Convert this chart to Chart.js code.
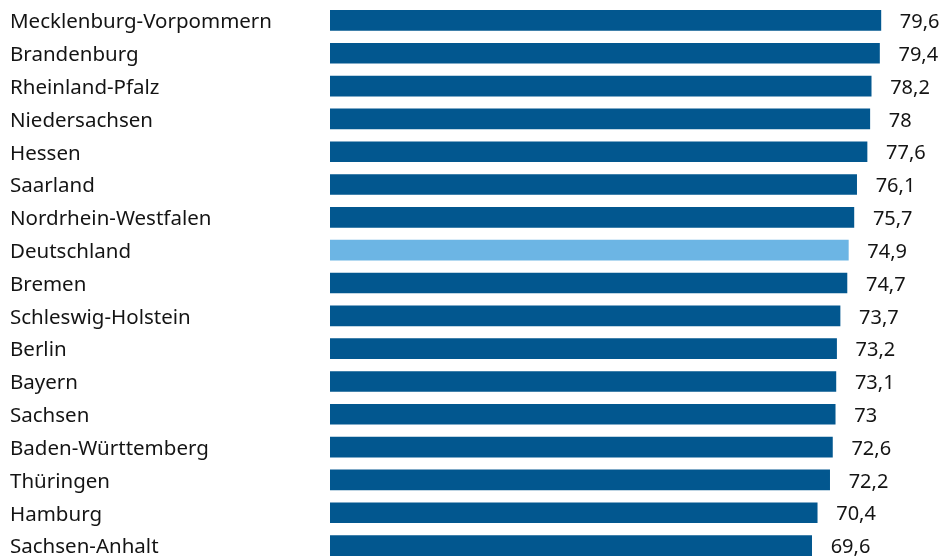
<!DOCTYPE html>
<html lang="de">
<head>
<meta charset="utf-8">
<title>Bundesländer</title>
<script src="https://cdn.jsdelivr.net/npm/chart.js@4"></script>
<style>
  html, body { margin: 0; padding: 0; background: #fff; overflow: hidden; }
  #wrap { position: relative; width: 943px; height: 562px; }
</style>
</head>
<body>
<div id="wrap"><canvas id="chart"></canvas></div>
<script>
const laender = [
  'Mecklenburg-Vorpommern', 'Brandenburg', 'Rheinland-Pfalz', 'Niedersachsen',
  'Hessen', 'Saarland', 'Nordrhein-Westfalen', 'Deutschland', 'Bremen',
  'Schleswig-Holstein', 'Berlin', 'Bayern', 'Sachsen', 'Baden-Württemberg',
  'Thüringen', 'Hamburg', 'Sachsen-Anhalt'
];
const werte = [79.6, 79.4, 78.2, 78, 77.6, 76.1, 75.7, 74.9, 74.7, 73.7, 73.2, 73.1, 73, 72.6, 72.2, 70.4, 69.6];

const DUNKEL = '#02578f';
const HELL = '#6cb5e4';
const SCHRIFT = "'Noto Sans', sans-serif";

// Zahl im deutschen Format (Komma statt Punkt)
function fmt(v) {
  return String(v).replace('.', ',');
}

// Werte rechts neben den Balken
const wertLabels = {
  id: 'wertLabels',
  afterDatasetsDraw(chart) {
    const ctx = chart.ctx;
    const meta = chart.getDatasetMeta(0);
    ctx.save();
    ctx.font = '20px ' + SCHRIFT;
    ctx.fillStyle = '#141414';
    ctx.textAlign = 'left';
    ctx.textBaseline = 'middle';
    meta.data.forEach((bar, i) => {
      ctx.fillText(fmt(werte[i]), bar.x + 19, bar.y + 2);
    });
    ctx.restore();
  }
};

new Chart(document.getElementById('chart'), {
  type: 'bar',
  data: {
    labels: laender,
    datasets: [{
      data: werte,
      backgroundColor: laender.map(l => l === 'Deutschland' ? HELL : DUNKEL),
      barThickness: 20,
      borderWidth: 0
    }]
  },
  options: {
    indexAxis: 'y',
    responsive: true,
    maintainAspectRatio: false,
    animation: false,
    layout: { padding: { left: 10, top: 4, right: 4, bottom: 0 } },
    plugins: {
      legend: { display: false },
      tooltip: { enabled: false }
    },
    scales: {
      x: {
        display: false,
        min: 0,
        max: 88
      },
      y: {
        grid: { display: false },
        border: { display: false },
        afterFit(scale) {
          scale.width = 320;
          // keine zusätzliche Polsterung oben/unten für die Beschriftung
          scale.paddingTop = 0;
          scale.paddingBottom = 0;
        },
        ticks: {
          crossAlign: 'far',
          color: '#141414',
          font: { family: SCHRIFT, size: 20.5 },
          padding: 0,
          labelOffset: 2
        }
      }
    }
  },
  plugins: [wertLabels]
});
</script>
</body>
</html>
